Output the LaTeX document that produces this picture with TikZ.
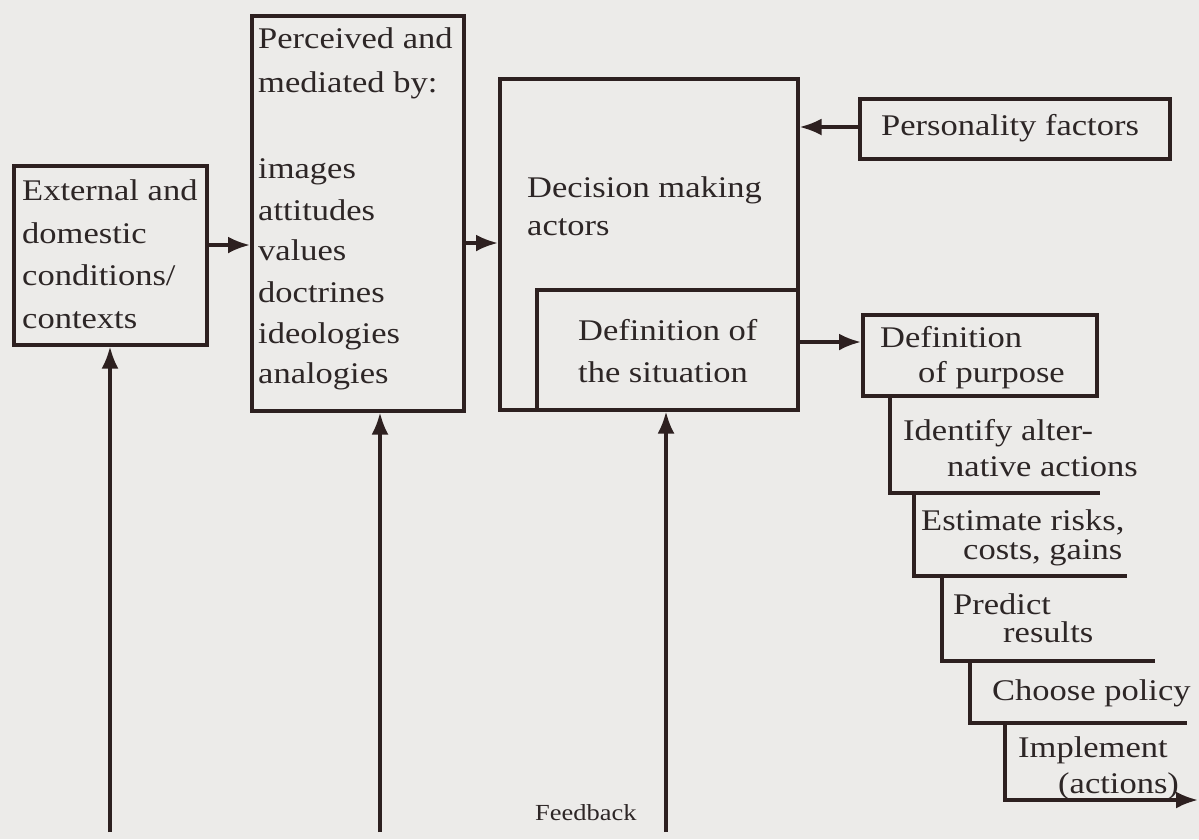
\documentclass[tikz,border=0pt]{standalone}
\usepackage{fontspec}
\setmainfont{Liberation Serif}[FakeStretch=1.15]
\usetikzlibrary{arrows.meta}
\definecolor{bgc}{RGB}{236,235,233}
\definecolor{ink}{RGB}{45,32,32}
\definecolor{txtc}{RGB}{45,38,38}
\tikzset{
  box/.style={draw=ink, line width=3.5pt, anchor=north west, inner sep=0pt},
  txt/.style={anchor=base west, inner sep=0pt, text=txtc, font=\fontsize{30}{36}\selectfont},
  smalltxt/.style={anchor=base west, inner sep=0pt, text=txtc, font=\fontsize{23}{28}\selectfont},
  arr/.style={draw=ink, line width=3.5pt, -{Latex[length=22pt,width=17pt]}},
  stair/.style={draw=ink, line width=3.5pt},
}
\begin{document}
\begin{tikzpicture}[x=1pt,y=-1pt]
\fill[bgc] (0,0) rectangle (1199,839);
\useasboundingbox (0,0) rectangle (1199,839);

% boxes
\node[box, minimum width=193pt, minimum height=179pt] (ext) at (12,164) {};
\node[box, minimum width=212pt, minimum height=395pt] (perc) at (250,14) {};
\node[box, minimum width=298pt, minimum height=331pt] (dec) at (498,77) {};
\node[box, minimum width=261pt, minimum height=120pt] (sit) at (535,288) {};
\node[box, minimum width=310pt, minimum height=60pt] (pers) at (858,97) {};
\node[box, minimum width=234pt, minimum height=81pt] (purp) at (861,313) {};

% texts
\node[txt] (e1) at (22,200) {External and};
\node[txt] (e2) at (22,243) {domestic};
\node[txt] (e3) at (22,285) {conditions/};
\node[txt] (e4) at (22,328) {contexts};

\node[txt] (p1) at (258,48) {Perceived and};
\node[txt] (p2) at (258,92) {mediated by:};
\node[txt] (p3) at (258,178) {images};
\node[txt] (p4) at (258,220) {attitudes};
\node[txt] (p5) at (258,260) {values};
\node[txt] (p6) at (258,302) {doctrines};
\node[txt] (p7) at (258,343) {ideologies};
\node[txt] (p8) at (258,383) {analogies};

\node[txt] (d1) at (527,197) {Decision making};
\node[txt] (d2) at (527,235) {actors};
\node[txt] (s1) at (578,340) {Definition of};
\node[txt] (s2) at (578,382) {the situation};

\node[txt] (f1) at (881,135) {Personality factors};

\node[txt] (u1) at (880,347) {Definition};
\node[txt] (u2) at (918,382) {of purpose};
\node[txt] (a1) at (903,440) {Identify alter-};
\node[txt] (a2) at (947,476) {native actions};
\node[txt] (r1) at (921,530) {Estimate risks,};
\node[txt] (r2) at (963,559) {costs, gains};
\node[txt] (c1) at (953,614) {Predict};
\node[txt] (c2) at (1003,642) {results};
\node[txt] (h1) at (992,700) {Choose policy};
\node[txt] (m1) at (1018,757) {Implement};
\node[txt] (m2) at (1058,793) {(actions)};

\node[smalltxt] (fb) at (535,820) {Feedback};

% staircase
\coordinate (st0) at (890,394);
\coordinate (st1) at (914,493);
\coordinate (st2) at (942,576);
\coordinate (st3) at (970,661);
\coordinate (st4) at (1005,723);
\coordinate (st5) at (1198,800);
\draw[stair] (st0) -- (st0 |- st1) -- (1100,493);
\draw[stair] (st1) -- (st1 |- st2) -- (1127,576);
\draw[stair] (st2) -- (st2 |- st3) -- (1155,661);
\draw[stair] (st3) -- (st3 |- st4) -- (1187,723);
\draw[arr] (st4) -- (st4 |- st5) -- (st5);

% connectors
\draw[arr] (ext.east |- 0,245) -- (perc.west |- 0,245);
\draw[arr] (perc.east |- 0,243) -- (dec.west |- 0,243);
\draw[arr] (pers.west |- 0,127) -- (dec.east |- 0,127);
\draw[arr] (sit.east |- 0,342) -- (purp.west |- 0,342);

\coordinate (b1) at (110,832);
\coordinate (b2) at (380,832);
\coordinate (b3) at (666,832);
\draw[arr] (b1) -- (b1 |- ext.south);
\draw[arr] (b2) -- (b2 |- perc.south);
\draw[arr] (b3) -- (b3 |- dec.south);
\end{tikzpicture}
\end{document}
